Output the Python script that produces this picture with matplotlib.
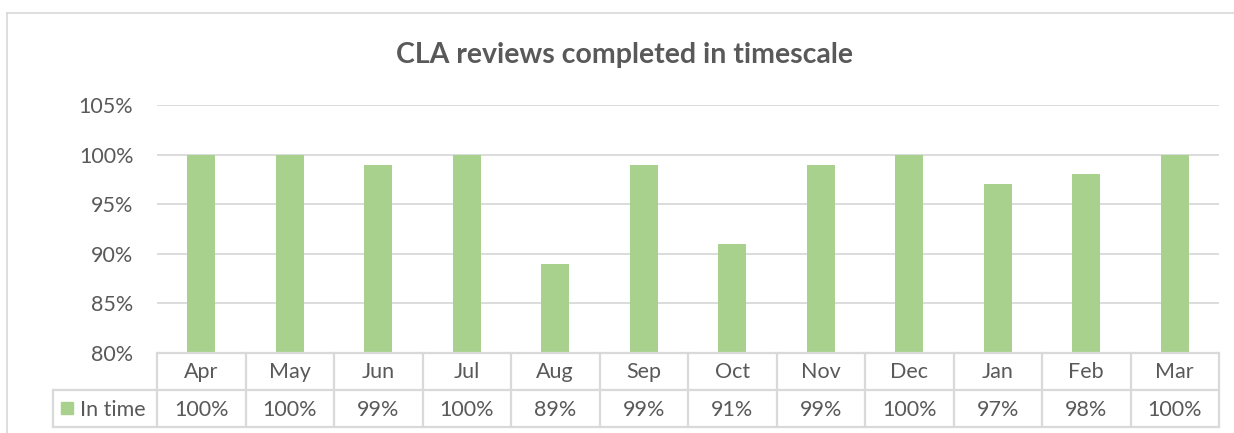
import matplotlib
matplotlib.use("Agg")
import matplotlib.pyplot as plt
from matplotlib.patches import Rectangle
from matplotlib.lines import Line2D

months = ["Apr", "May", "Jun", "Jul", "Aug", "Sep", "Oct", "Nov", "Dec", "Jan", "Feb", "Mar"]
in_time = [100, 100, 99, 100, 89, 99, 91, 99, 100, 97, 98, 100]
series_name = "In time"
title = "CLA reviews completed in timescale"
yticks = [80, 85, 90, 95, 100, 105]

plt.rcParams['font.family'] = ['Lato', 'DejaVu Sans']
TXT = "#595959"
GRID = "#d9d9d9"
BAR = "#a9d18e"
FS = 15.5

W, H = 1234, 433
fig = plt.figure(figsize=(W / 100, H / 100), dpi=100)

def fx(px):
    return px / W

def fy(py):
    return 1 - py / H

ax_l, ax_r, ax_t, ax_b = 157, 1219, 105, 353
ax = fig.add_axes([fx(ax_l), fy(ax_b), fx(ax_r - ax_l), fy(ax_t) - fy(ax_b)])

x = list(range(len(months)))
ax.bar(x, in_time, width=0.32, color=BAR, zorder=2)
ax.set_xlim(-0.5, len(months) - 0.5)
ax.set_ylim(80, 105)
ax.set_yticks(yticks)
ax.set_yticklabels([f"{v}%" for v in yticks], color=TXT, fontsize=FS)
ax.tick_params(axis='y', length=0, pad=17)
ax.tick_params(axis='x', length=0, labelbottom=False)
ax.grid(axis='y', color=GRID, linewidth=1.3, zorder=0)
for s in ax.spines.values():
    s.set_visible(False)

# data table below axes
ftr = fig.transFigure
row1_top, row1_bot, row2_bot = 353, 390, 427
tbl_left = 53
lw = 1.6
lines = []
lines.append(((ax_l, ax_r), (row1_top, row1_top)))
lines.append(((tbl_left, ax_r), (row1_bot, row1_bot)))
lines.append(((tbl_left, ax_r), (row2_bot, row2_bot)))
lines.append(((tbl_left, tbl_left), (row1_bot, row2_bot)))
cw = (ax_r - ax_l) / len(months)
for i in range(len(months) + 1):
    xp = ax_l + i * cw
    lines.append(((xp, xp), (row1_top, row2_bot)))
for (xs, ys) in lines:
    fig.add_artist(Line2D([fx(v) for v in xs], [fy(v) for v in ys], color=GRID, lw=lw, transform=ftr))

for i, (m, v) in enumerate(zip(months, in_time)):
    cx = ax_l + (i + 0.5) * cw
    fig.text(fx(cx), fy((row1_top + row1_bot) / 2 + 1), m, ha='center', va='center', color=TXT, fontsize=FS)
    fig.text(fx(cx), fy((row1_bot + row2_bot) / 2 + 1), f"{v}%", ha='center', va='center', color=TXT, fontsize=FS)

# legend key
fig.add_artist(Rectangle((fx(61), fy(414)), fx(12), fy(402) - fy(414), color=BAR, transform=ftr))
fig.text(fx(80), fy((row1_bot + row2_bot) / 2 + 1), series_name, ha='left', va='center', color=TXT, fontsize=FS)

# title
fig.text(fx(625), fy(55), title, ha='center', va='center', color=TXT, fontsize=20.5, fontweight='bold')

# outer chart frame (partially visible)
fig.add_artist(Line2D([fx(7), fx(7)], [fy(13), 0], color=GRID, lw=1.2, transform=ftr))
fig.add_artist(Line2D([fx(7), 1], [fy(13), fy(13)], color=GRID, lw=1.2, transform=ftr))

fig.savefig("out.png", dpi=100)
